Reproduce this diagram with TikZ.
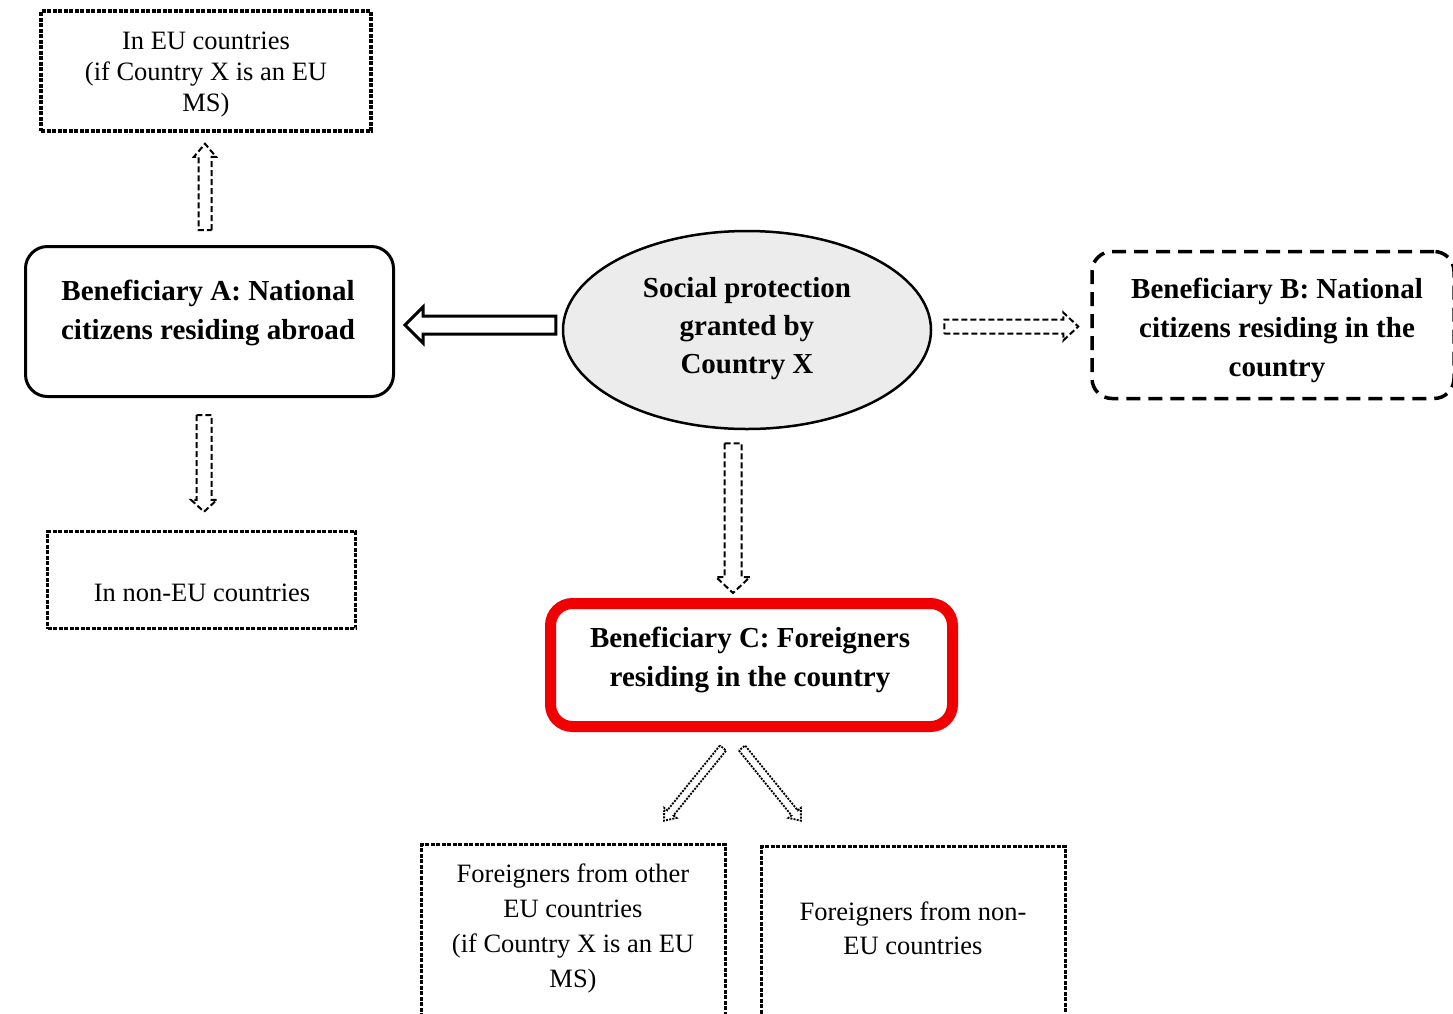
\documentclass[tikz,border=0pt]{standalone}
\usepackage{fontspec}
\setmainfont{Liberation Serif}
\usetikzlibrary{calc,shapes.geometric}
\definecolor{boxred}{RGB}{240,0,0}
\definecolor{ellfill}{RGB}{236,236,236}
% open (outlined) block arrow: #1 style, #2 half shaft, #3 half head, #4 head length, #5 start, #6 end
\newcommand\oarrow[6]{%
  \path let \p1=($(#6)-(#5)$) in \pgfextra{\pgfmathsetmacro\oaang{atan2(\y1,\x1)}\pgfmathsetmacro\oalen{veclen(\x1,\y1)}\xdef\oaangG{\oaang}\xdef\oalenG{\oalen}};
  \draw[#1, shift={(#5)}, rotate=\oaangG] (0pt,-#2pt) -- ({\oalenG pt-#4pt},-#2pt) -- ({\oalenG pt-#4pt},-#3pt) -- ({\oalenG pt},0pt) -- ({\oalenG pt-#4pt},#3pt) -- ({\oalenG pt-#4pt},#2pt) -- (0pt,#2pt) -- cycle;
}
\tikzset{
  dbox/.style={draw, line width=3.5pt, dash pattern=on 4pt off 1.5pt, inner sep=0pt},
  solidbox/.style={draw, line width=3pt, rounded corners=22pt, inner sep=0pt},
  dashbox/.style={draw, line width=3.5pt, dash pattern=on 14pt off 8pt, rounded corners=20pt, inner sep=0pt},
  redbox/.style={draw=boxred, line width=11pt, rounded corners=22pt, inner sep=0pt},
  ellbox/.style={ellipse, draw, line width=2.5pt, fill=ellfill, inner sep=0pt},
  rtext/.style={align=center, inner sep=0pt, font={\fontsize{26.5pt}{31pt}\selectfont}},
  ftext/.style={align=center, inner sep=0pt, font={\fontsize{26.5pt}{35pt}\selectfont}},
  btext/.style={align=center, inner sep=0pt, font={\fontsize{29pt}{39pt}\selectfont\bfseries}},
  dasharrow/.style={line width=2pt, dash pattern=on 6pt off 3pt},
  solidarrow/.style={line width=3pt},
  dotarrow/.style={line width=1.8pt, dash pattern=on 2pt off 1.2pt},
}
\begin{document}
\begin{tikzpicture}[x=1pt,y=-1pt]
\useasboundingbox (0,0) rectangle (1453,1013);
% boxes
\node[dbox, minimum width=330pt, minimum height=120pt] (T) at (206,71) {};
\node[rtext] (Tt) at (206,75) {In EU countries\\(if Country X is an EU\\MS)};
\node[solidbox, minimum width=368pt, minimum height=150pt] (A) at (209.5,321.5) {};
\node[btext] (At) at (208,313) {Beneficiary A: National\\citizens residing abroad};
\node[ellbox, minimum width=368pt, minimum height=198pt] (E) at (747,330) {};
\node[btext, font={\fontsize{29pt}{38pt}\selectfont\bfseries}] (Et) at (747,329) {Social protection\\granted by\\Country X};
\node[dashbox, minimum width=362pt, minimum height=147pt] (B) at (1273,325) {};
\node[btext] (Bt) at (1277,330) {Beneficiary B: National\\citizens residing in the\\country};
\node[redbox, minimum width=402pt, minimum height=123pt] (C) at (751.5,665) {};
\node[btext] (Ct) at (750,660) {Beneficiary C: Foreigners\\residing in the country};
\node[dbox, minimum width=308pt, minimum height=97pt] (N) at (201.5,580) {};
\node[rtext] (Nt) at (202,593) {In non-EU countries};
\node[dbox, minimum width=304pt, minimum height=197pt] (F1) at (573.5,943) {};
\node[ftext] (F1t) at (573,928) {Foreigners from other\\EU countries\\(if Country X is an EU\\MS)};
\node[dbox, minimum width=304pt, minimum height=197pt] (F2) at (913.5,945) {};
\node[ftext, font={\fontsize{26.5pt}{34pt}\selectfont}] (F2t) at (913,928) {Foreigners from non-\\EU countries};
% connector end points
\coordinate (a1s) at ($(A.north)+(-4.5,-15)$);
\coordinate (a1e) at ($(T.south)+(-1,11)$);
\coordinate (a2s) at ($(E.west)+(-6,-5)$);
\coordinate (a2e) at ($(A.east)+(10,3.5)$);
\coordinate (a3s) at ($(E.east)+(12,-3.5)$);
\coordinate (a3e) at ($(B.west)+(-12,1.5)$);
\coordinate (a4s) at ($(E.south)+(-14,13)$);
\coordinate (a4e) at ($(C.north)+(-18.5,-5)$);
\coordinate (a5s) at ($(A.south)+(-5.5,17)$);
\coordinate (a5e) at ($(N.north)+(2.5,-18)$);
\coordinate (a6s) at ($(C.south)+(-28.5,16)$);
\coordinate (a6e) at ($(F1.north)+(90.5,-22)$);
\coordinate (a7s) at ($(C.south)+(-9.5,16)$);
\coordinate (a7e) at ($(F2.north)+(-112.5,-24)$);
% arrows
\oarrow{dasharrow}{6.5}{11}{13}{a1s}{a1e}
\oarrow{solidarrow}{9}{18}{18}{a2s}{a2e}
\oarrow{dasharrow}{7}{14}{15}{a3s}{a3e}
\oarrow{dasharrow}{8.5}{17}{16}{a4s}{a4e}
\oarrow{dasharrow}{7.5}{13}{12}{a5s}{a5e}
\oarrow{dotarrow}{4}{8}{10}{a6s}{a6e}
\oarrow{dotarrow}{4}{8}{10}{a7s}{a7e}
\end{tikzpicture}
\end{document}
